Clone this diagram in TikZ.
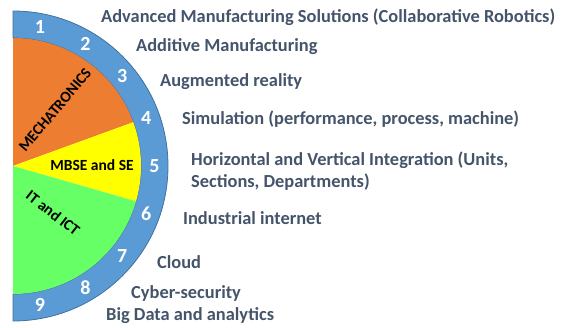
\documentclass[tikz,border=0pt]{standalone}
\usepackage{fontspec}
\setmainfont{Carlito}
\usetikzlibrary{calc}
\definecolor{ringblue}{HTML}{5B9BD5}
\definecolor{ringedge}{HTML}{41719C}
\definecolor{orng}{HTML}{ED7D31}
\definecolor{yel}{HTML}{FFFF00}
\definecolor{grn}{HTML}{66FF66}
\definecolor{txt}{HTML}{44546A}
\begin{document}
\begin{tikzpicture}[x=1pt,y=1pt,
  lbl/.style={anchor=west,inner sep=0pt,text=txt,font=\fontsize{18.4}{22}\selectfont\bfseries,align=left},
  num/.style={inner sep=0pt,text=white,font=\fontsize{20}{22}\selectfont\bfseries},
  sec/.style={inner sep=0pt,text=black,font=\fontsize{15.5}{16}\selectfont\bfseries}]
\useasboundingbox (0,0) rectangle (564,327);
\coordinate (c) at (13,161);
% ring
\filldraw[fill=ringblue,draw=ringedge,line width=0.8pt]
  (13,316) arc[start angle=90,end angle=-90,radius=155] -- (13,33)
  arc[start angle=-90,end angle=90,radius=128] -- cycle;
% sectors
\fill[orng] (c) -- (13,289) arc[start angle=90,end angle=20,radius=128] -- cycle;
\fill[yel] (c) -- ++(20:128) arc[start angle=20,end angle=-16,radius=128] -- cycle;
\fill[grn] (c) -- ++(-16:128) arc[start angle=-16,end angle=-90,radius=128] -- cycle;
% numbers
\foreach \i in {1,...,9}{
  \pgfmathsetmacro\ang{79-19.75*(\i-1)}
  \node[num] (n\i) at ($(c)+(\ang:141.5)$) {\i};
}
% sector labels
\node[sec,rotate=50] (mech) at (55,217) {MECHATRONICS};
\node[sec] (mbse) at (92,162) {MBSE and SE};
\node[sec,rotate=-38] (itc) at (53,114) {IT and ICT};
% labels
\node[lbl] (l1) at (101,310) {Advanced Manufacturing Solutions (Collaborative Robotics)};
\node[lbl] (l2) at (136,280) {Additive Manufacturing};
\node[lbl] (l3) at (160,245) {Augmented reality};
\node[lbl] (l4) at (182,208) {Simulation (performance, process, machine)};
\node[lbl] (l5) at (191,156) {Horizontal and Vertical Integration (Units,\\Sections, Departments)};
\node[lbl] (l6) at (183,109) {Industrial internet};
\node[lbl] (l7) at (157,65) {Cloud};
\node[lbl] (l8) at (131,34) {Cyber-security};
\node[lbl] (l9) at (106,11) {Big Data and analytics};
\end{tikzpicture}
\end{document}
